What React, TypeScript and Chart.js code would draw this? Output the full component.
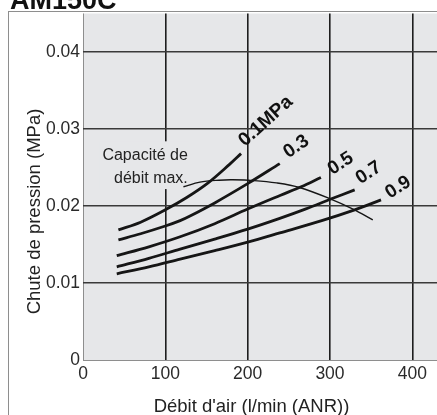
import { useEffect, useRef } from 'react';
import { Chart, registerables } from 'chart.js';

Chart.register(...registerables);

// ---- data ----
const flow01 = [43, 70, 100, 126, 152, 178, 192];
const drop01 = [0.0169, 0.0179, 0.0195, 0.0211, 0.023, 0.0254, 0.0268];

const flow03 = [43, 70, 100, 118, 130, 160, 200, 239];
const drop03 = [0.0156, 0.0164, 0.0174, 0.0181, 0.0187, 0.0204, 0.0229, 0.0255];

const flow05 = [41, 80, 118, 160, 200, 240, 265, 289];
const drop05 = [0.01355, 0.0147, 0.016, 0.0177, 0.0196, 0.0214, 0.0225, 0.0237];

const flow07 = [41, 80, 118, 160, 200, 239, 270, 301, 330];
const drop07 = [0.0121, 0.0132, 0.0144, 0.0157, 0.017, 0.0184, 0.0196, 0.0209, 0.0221];

const flow09 = [41, 80, 118, 160, 200, 239, 290, 330, 362];
const drop09 = [0.0112, 0.0121, 0.0131, 0.0142, 0.0153, 0.0165, 0.0181, 0.0195, 0.0208];

const capFlow = [122, 142, 165, 182, 208, 235, 263, 301, 328, 352];
const capDrop = [0.0225, 0.0231, 0.02335, 0.0234, 0.0233, 0.023, 0.0224, 0.0209, 0.0196, 0.0182];

const xTickValues = [0, 100, 200, 300, 400];
const yTickValues = [0, 0.01, 0.02, 0.03, 0.04];

const pressureLabels = ['0.1MPa', '0.3', '0.5', '0.7', '0.9'];
const capacityText = ['Capacité de', 'débit max.'];
const titleText = 'AM150C';
const xTitle = "Débit d'air (l/min (ANR))";
const yTitle = 'Chute de pression (MPa)';

// ---- annotation placement (data units) ----
const labelAnchors = [
  { x: 222, y: 0.031, rot: -42 },
  { x: 259, y: 0.0277, rot: -35 },
  { x: 313, y: 0.0255, rot: -33 },
  { x: 347, y: 0.0243, rot: -33 },
  { x: 383, y: 0.0224, rot: -33 },
];
const capacityAnchor = { x: 127.3, y1: 0.02594, y2: 0.02304 };

const FONT = '"Liberation Sans", Arial, Helvetica, sans-serif';
const PLOT_BG = '#e6e7e9';
const FRAME = '#8e8e8e';

const pts = (xs: number[], ys: number[]) => xs.map((x, i) => ({ x, y: ys[i] }));

const decor = {
  id: 'decor',
  beforeDraw(chart: any) {
    const { ctx, chartArea: a } = chart;
    ctx.save();
    ctx.fillStyle = '#ffffff';
    ctx.fillRect(0, 0, chart.width, chart.height);
    ctx.fillStyle = PLOT_BG;
    ctx.fillRect(a.left, a.top, a.right - a.left, a.bottom - a.top);
    ctx.restore();
  },
  beforeDatasetsDraw(chart: any) {
    const { ctx } = chart;
    const xs = chart.scales.x;
    const ys = chart.scales.y;
    ctx.save();
    ctx.fillStyle = PLOT_BG;
    const l = xs.getPixelForValue(20);
    const r = xs.getPixelForValue(128);
    const t = ys.getPixelForValue(0.0284);
    const b = ys.getPixelForValue(0.0222);
    ctx.fillRect(l, t, r - l, b - t);
    ctx.restore();
  },
  afterDraw(chart: any) {
    const { ctx } = chart;
    const xs = chart.scales.x;
    const ys = chart.scales.y;
    ctx.save();
    // outer frame
    ctx.strokeStyle = FRAME;
    ctx.lineWidth = 1;
    ctx.strokeRect(8.5, 11.5, 1000, 1000);
    // title (cut at top)
    ctx.fillStyle = '#111';
    ctx.font = `bold 27px ${FONT}`;
    ctx.textAlign = 'left';
    ctx.textBaseline = 'alphabetic';
    ctx.fillText(titleText, 10, 8.5);
    // axis titles
    ctx.fillStyle = '#222';
    ctx.font = `18.5px ${FONT}`;
    ctx.textAlign = 'center';
    ctx.textBaseline = 'middle';
    ctx.fillText(xTitle, 251.5, 406.5);
    ctx.save();
    ctx.translate(35, 211.5);
    ctx.rotate(-Math.PI / 2);
    ctx.fillText(yTitle, 0, 0);
    ctx.restore();
    // capacity text
    ctx.font = `16px ${FONT}`;
    ctx.textAlign = 'right';
    ctx.textBaseline = 'alphabetic';
    const cx = xs.getPixelForValue(capacityAnchor.x);
    ctx.fillText(capacityText[0], cx, ys.getPixelForValue(capacityAnchor.y1));
    ctx.fillText(capacityText[1], cx, ys.getPixelForValue(capacityAnchor.y2));
    // pressure labels
    ctx.fillStyle = '#111';
    ctx.font = `bold 19px ${FONT}`;
    ctx.textAlign = 'center';
    ctx.textBaseline = 'middle';
    labelAnchors.forEach((a, i) => {
      ctx.save();
      ctx.translate(xs.getPixelForValue(a.x), ys.getPixelForValue(a.y));
      ctx.rotate((a.rot * Math.PI) / 180);
      ctx.fillText(pressureLabels[i], 0, 0);
      ctx.restore();
    });
    ctx.restore();
  },
};

export default function App() {
  const ref = useRef<HTMLCanvasElement | null>(null);
  useEffect(() => {
    if (!ref.current) return;
    const lineDs = (xs: number[], ys: number[], w: number) => ({
      data: pts(xs, ys),
      borderColor: '#161616',
      borderWidth: w,
      pointRadius: 0,
      tension: 0.35,
      fill: false,
    });
    const chart = new Chart(ref.current, {
      type: 'line',
      data: {
        datasets: [
          lineDs(flow01, drop01, 2.8),
          lineDs(flow03, drop03, 2.8),
          lineDs(flow05, drop05, 2.8),
          lineDs(flow07, drop07, 2.8),
          lineDs(flow09, drop09, 2.8),
          lineDs(capFlow, capDrop, 1.4),
        ],
      },
      options: {
        animation: false,
        responsive: false,
        devicePixelRatio: 1,
        layout: { padding: { left: 0, top: 12, right: 0, bottom: 0 } },
        plugins: { legend: { display: false }, tooltip: { enabled: false } },
        scales: {
          x: {
            type: 'linear',
            min: 0,
            max: 430,
            afterFit: (s: any) => {
              s.height = 55;
            },
            afterBuildTicks: (s: any) => {
              s.ticks = xTickValues.map((v) => ({ value: v }));
            },
            ticks: {
              padding: 4,
              color: '#2a2a2a',
              font: { family: FONT, size: 17.5 },
              maxRotation: 0,
              callback: (v: any) => String(v),
            },
            grid: {
              drawTicks: false,
              color: (c: any) => (c.tick && c.tick.value === 0 ? FRAME : '#1e1e1e'),
              lineWidth: (c: any) => (c.tick && c.tick.value === 0 ? 1 : 1.6),
            },
            border: { display: false },
          },
          y: {
            type: 'linear',
            min: 0,
            max: 0.045,
            afterFit: (s: any) => {
              s.width = 83;
            },
            afterBuildTicks: (s: any) => {
              s.ticks = yTickValues.map((v) => ({ value: v }));
            },
            ticks: {
              padding: 3,
              color: '#2a2a2a',
              font: { family: FONT, size: 17.5 },
              callback: (v: any) => (v === 0 ? '0' : Number(v).toFixed(2)),
            },
            grid: {
              drawTicks: false,
              color: (c: any) => (c.tick && c.tick.value === 0 ? FRAME : '#3a3a3a'),
              lineWidth: (c: any) => (c.tick && c.tick.value === 0 ? 1 : 1.6),
            },
            border: { display: false },
          },
        },
      },
      plugins: [decor],
    });
    return () => chart.destroy();
  }, []);
  return (
    <div style={{ position: 'fixed', left: 0, top: 0, width: 437, height: 415 }}>
      <canvas ref={ref} width={437} height={415} style={{ width: 437, height: 415, display: 'block' }} />
    </div>
  );
}
